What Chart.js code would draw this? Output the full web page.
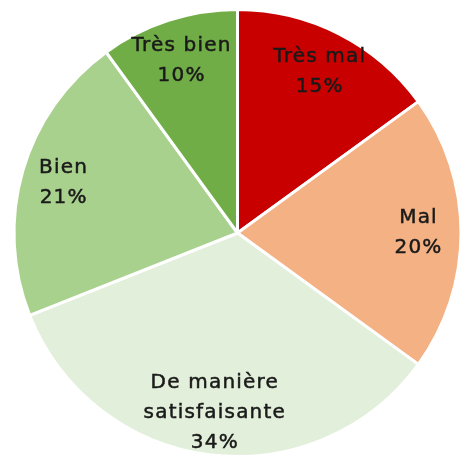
<!DOCTYPE html>
<html>
<head>
<meta charset="utf-8">
<script src="https://cdn.jsdelivr.net/npm/chart.js@4/dist/chart.umd.min.js"></script>
<style>
  html, body { margin: 0; padding: 0; background: #fff; }
  #wrap { width: 463px; height: 460px; position: relative; }
</style>
</head>
<body>
<div id="wrap"><canvas id="pie"></canvas></div>
<script>
"use strict";

const categories = [["Très mal"], ["Mal"], ["De manière", "satisfaisante"], ["Bien"], ["Très bien"]];
const values = [15, 20, 34, 21, 10];
const colors = ["#C80000", "#F4B183", "#E2EFDA", "#A9D18E", "#70AD47"];

const LABEL_FONT = "20px 'DejaVu Sans', Verdana, sans-serif";
const LINE_HEIGHT = 30;

const sliceLabels = {
  id: "sliceLabels",
  afterDatasetsDraw(chart) {
    const { ctx } = chart;
    const meta = chart.getDatasetMeta(0);
    const total = values.reduce((a, b) => a + b, 0);
    ctx.save();
    ctx.font = LABEL_FONT;
    ctx.letterSpacing = "1.2px";
    ctx.fillStyle = "#1a1a1a";
    ctx.strokeStyle = "#1a1a1a";
    ctx.lineWidth = 0.5;
    ctx.textAlign = "center";
    ctx.textBaseline = "middle";
    meta.data.forEach((arc, i) => {
      const mid = (arc.startAngle + arc.endAngle) / 2;
      const r = arc.outerRadius * 0.81;
      const x = arc.x + Math.cos(mid) * r;
      const y = arc.y + Math.sin(mid) * r;
      const lines = categories[i].concat([Math.round(values[i] / total * 100) + "%"]);
      const top = y - (lines.length - 1) * LINE_HEIGHT / 2;
      lines.forEach((line, j) => {
        ctx.fillText(line, x, top + j * LINE_HEIGHT);
        ctx.strokeText(line, x, top + j * LINE_HEIGHT);
      });
    });
    ctx.restore();
  }
};

window.addEventListener("DOMContentLoaded", () => {
  new Chart(document.getElementById("pie"), {
    type: "pie",
    data: {
      labels: categories.map((c) => c.join(" ")),
      datasets: [{
        data: values,
        backgroundColor: colors,
        borderColor: "#ffffff",
        borderWidth: 3
      }]
    },
    options: {
      responsive: true,
      maintainAspectRatio: false,
      animation: false,
      layout: { padding: { left: 12, right: 0, top: 8, bottom: 2 } },
      plugins: {
        legend: { display: false },
        tooltip: { enabled: false }
      }
    },
    plugins: [sliceLabels]
  });
});
</script>
</body>
</html>
